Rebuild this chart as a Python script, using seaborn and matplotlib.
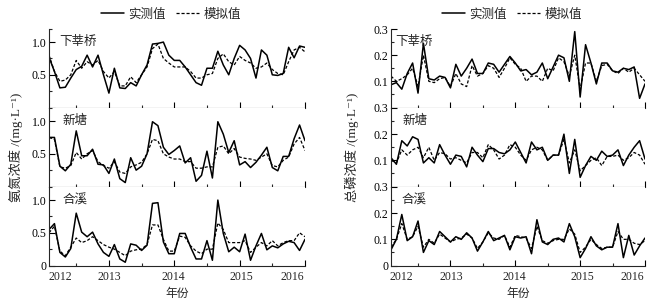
import matplotlib
matplotlib.use("Agg")
import matplotlib.pyplot as plt
from matplotlib.lines import Line2D
import numpy as np
import pandas as pd
import seaborn as sns

# monthly series, Jan 2012 - Dec 2015 (48 months)
months = np.arange(48)
sites = ["下莘桥", "新塘", "合溪"]
year_labels = ["2012", "2013", "2014", "2015", "2016"]

# 氨氮 (mg/L)
nh_xxq_obs = [0.77, 0.55, 0.30, 0.31, 0.45, 0.58, 0.63, 0.80, 0.62, 0.80, 0.50, 0.22,
              0.60, 0.30, 0.29, 0.38, 0.33, 0.50, 0.65, 0.97, 0.98, 1.00, 0.80, 0.72,
              0.72, 0.62, 0.50, 0.38, 0.34, 0.60, 0.60, 0.86, 0.65, 0.50, 0.75, 0.95,
              0.88, 0.75, 0.45, 0.88, 0.80, 0.50, 0.49, 0.52, 0.92, 0.76, 0.94, 0.92]
nh_xxq_sim = [0.80, 0.55, 0.40, 0.42, 0.50, 0.72, 0.60, 0.70, 0.65, 0.72, 0.55, 0.45,
              0.55, 0.33, 0.33, 0.47, 0.38, 0.50, 0.62, 0.90, 0.97, 0.75, 0.68, 0.62,
              0.62, 0.62, 0.55, 0.45, 0.45, 0.50, 0.52, 0.75, 0.82, 0.70, 0.65, 0.78,
              0.72, 0.68, 0.60, 0.62, 0.68, 0.58, 0.52, 0.50, 0.70, 0.88, 0.92, 0.85]
nh_xt_obs = [0.75, 0.75, 0.31, 0.24, 0.34, 0.85, 0.47, 0.47, 0.57, 0.34, 0.33, 0.20,
             0.42, 0.12, 0.06, 0.44, 0.25, 0.31, 0.50, 0.99, 0.93, 0.60, 0.49, 0.55,
             0.62, 0.36, 0.44, 0.08, 0.17, 0.54, 0.13, 0.99, 0.80, 0.52, 0.70, 0.33,
             0.38, 0.29, 0.37, 0.48, 0.60, 0.29, 0.24, 0.46, 0.46, 0.73, 0.94, 0.70]
nh_xt_sim = [0.75, 0.72, 0.30, 0.28, 0.32, 0.52, 0.42, 0.50, 0.55, 0.38, 0.32, 0.28,
             0.38, 0.22, 0.20, 0.30, 0.33, 0.37, 0.50, 0.72, 0.70, 0.50, 0.45, 0.42,
             0.42, 0.38, 0.38, 0.28, 0.28, 0.30, 0.30, 0.60, 0.62, 0.50, 0.58, 0.45,
             0.43, 0.42, 0.40, 0.45, 0.50, 0.32, 0.30, 0.40, 0.45, 0.65, 0.75, 0.55]
nh_hx_obs = [0.55, 0.64, 0.20, 0.13, 0.26, 0.80, 0.51, 0.44, 0.51, 0.33, 0.20, 0.14,
             0.32, 0.10, 0.05, 0.33, 0.31, 0.23, 0.31, 0.95, 0.96, 0.36, 0.18, 0.18,
             0.49, 0.49, 0.28, 0.10, 0.10, 0.38, 0.08, 1.00, 0.49, 0.21, 0.28, 0.21,
             0.48, 0.08, 0.30, 0.49, 0.24, 0.30, 0.27, 0.33, 0.37, 0.35, 0.23, 0.40]
nh_hx_sim = [0.50, 0.60, 0.22, 0.15, 0.28, 0.42, 0.35, 0.38, 0.44, 0.38, 0.32, 0.28,
             0.25, 0.20, 0.15, 0.22, 0.24, 0.25, 0.32, 0.62, 0.62, 0.40, 0.22, 0.22,
             0.45, 0.43, 0.30, 0.22, 0.18, 0.25, 0.25, 0.65, 0.55, 0.35, 0.35, 0.35,
             0.38, 0.20, 0.28, 0.35, 0.30, 0.38, 0.30, 0.35, 0.38, 0.38, 0.50, 0.44]

# 总磷 (mg/L)
tp_xxq_obs = [0.087, 0.095, 0.070, 0.130, 0.170, 0.055, 0.245, 0.110, 0.105, 0.120, 0.115, 0.075,
              0.165, 0.120, 0.150, 0.185, 0.130, 0.130, 0.170, 0.165, 0.135, 0.165, 0.195, 0.170,
              0.140, 0.145, 0.125, 0.135, 0.170, 0.110, 0.155, 0.200, 0.190, 0.100, 0.290, 0.040,
              0.240, 0.170, 0.090, 0.170, 0.170, 0.140, 0.135, 0.150, 0.145, 0.155, 0.035, 0.090]
tp_xxq_sim = [0.120, 0.100, 0.110, 0.125, 0.150, 0.080, 0.200, 0.100, 0.095, 0.110, 0.115, 0.080,
              0.130, 0.090, 0.080, 0.160, 0.120, 0.130, 0.160, 0.150, 0.115, 0.150, 0.190, 0.165,
              0.150, 0.100, 0.120, 0.120, 0.100, 0.150, 0.140, 0.190, 0.175, 0.120, 0.200, 0.070,
              0.170, 0.170, 0.100, 0.160, 0.165, 0.140, 0.130, 0.150, 0.135, 0.150, 0.125, 0.100]
tp_xt_obs = [0.110, 0.085, 0.175, 0.155, 0.190, 0.180, 0.090, 0.110, 0.090, 0.160, 0.120, 0.085,
             0.120, 0.115, 0.075, 0.150, 0.120, 0.095, 0.145, 0.145, 0.130, 0.125, 0.140, 0.170,
             0.130, 0.090, 0.170, 0.140, 0.150, 0.100, 0.120, 0.120, 0.200, 0.050, 0.180, 0.035,
             0.080, 0.115, 0.100, 0.135, 0.115, 0.120, 0.140, 0.080, 0.120, 0.150, 0.175, 0.105]
tp_xt_sim = [0.100, 0.090, 0.140, 0.120, 0.140, 0.150, 0.110, 0.150, 0.100, 0.130, 0.125, 0.105,
             0.110, 0.100, 0.090, 0.130, 0.130, 0.110, 0.160, 0.140, 0.105, 0.120, 0.160, 0.150,
             0.120, 0.100, 0.140, 0.150, 0.140, 0.100, 0.120, 0.120, 0.180, 0.090, 0.140, 0.060,
             0.080, 0.100, 0.110, 0.080, 0.115, 0.115, 0.120, 0.100, 0.110, 0.130, 0.120, 0.085]
tp_hx_obs = [0.060, 0.100, 0.195, 0.095, 0.110, 0.170, 0.050, 0.095, 0.080, 0.130, 0.110, 0.090,
             0.110, 0.100, 0.125, 0.105, 0.055, 0.090, 0.130, 0.095, 0.105, 0.115, 0.060, 0.110,
             0.105, 0.110, 0.045, 0.175, 0.090, 0.080, 0.100, 0.105, 0.090, 0.160, 0.110, 0.030,
             0.065, 0.110, 0.075, 0.060, 0.070, 0.070, 0.160, 0.030, 0.115, 0.040, 0.075, 0.105]
tp_hx_sim = [0.070, 0.100, 0.160, 0.100, 0.110, 0.150, 0.070, 0.100, 0.085, 0.120, 0.105, 0.090,
             0.100, 0.105, 0.120, 0.105, 0.065, 0.090, 0.125, 0.105, 0.100, 0.115, 0.070, 0.115,
             0.110, 0.105, 0.065, 0.150, 0.095, 0.085, 0.095, 0.100, 0.100, 0.140, 0.120, 0.050,
             0.070, 0.100, 0.080, 0.065, 0.070, 0.070, 0.130, 0.100, 0.100, 0.085, 0.080, 0.095]

sns.set_theme(style="ticks")
plt.rcParams["font.family"] = ["Liberation Serif", "Noto Sans CJK SC", "DejaVu Sans"]
plt.rcParams["axes.linewidth"] = 0.8

fig = plt.figure(figsize=(6.58, 3.05), dpi=100)

W, H = 658.0, 305.0
rows_top = [29, 108, 187]
row_h = 78.5

panels = [
    dict(x0=49, x1=305, obs=[nh_xxq_obs, nh_xt_obs, nh_hx_obs], sim=[nh_xxq_sim, nh_xt_sim, nh_hx_sim],
         ylim=1.2, major=[0, 0.5, 1.0], minor=[0.25, 0.75, 1.2], fmt=["0", "0.5", "1.0"],
         ylabel="氨氮浓度 /(mg·L⁻¹)", ylab_x=16, lab_dx=[10, 13, 14]),
    dict(x0=391, x1=645, obs=[tp_xxq_obs, tp_xt_obs, tp_hx_obs], sim=[tp_xxq_sim, tp_xt_sim, tp_hx_sim],
         ylim=0.3, major=[0, 0.1, 0.2, 0.3], minor=[0.05, 0.15, 0.25], fmt=["0", "0.1", "0.2", "0.3"],
         ylabel="总磷浓度 /(mg·L⁻¹)", ylab_x=352, lab_dx=[4, 11, 11]),
]

year_pos = [2.0, 11.1, 22.9, 35.4, 44.7]
dash = (0, (2.5, 1.5))

for p in panels:
    for r in range(3):
        top = rows_top[r]
        ax = fig.add_axes([p["x0"] / W, 1 - (top + row_h) / H, (p["x1"] - p["x0"]) / W, row_h / H])
        df = pd.DataFrame({"month": months, "obs": p["obs"][r], "sim": p["sim"][r]})
        sns.lineplot(data=df, x="month", y="obs", ax=ax, color="black", lw=1.1)
        sns.lineplot(data=df, x="month", y="sim", ax=ax, color="black", lw=0.9, linestyle=dash)
        ax.set_xlim(0, 47)
        ax.set_ylim(0, p["ylim"])
        for s in ["top", "right"]:
            ax.spines[s].set_visible(False)
        ax.set_xlabel("")
        ax.set_ylabel("")
        ax.set_xticks([11, 23, 35, 47])
        ax.set_xticks([5, 17, 29, 41], minor=True)
        ax.set_xticklabels([])
        ax.set_yticks(p["major"])
        labels = list(p["fmt"])
        if r < 2:
            labels[0] = ""
        ax.set_yticklabels(labels)
        ax.set_yticks(p["minor"], minor=True)
        ax.tick_params(axis="both", which="major", direction="in", length=4, width=0.8,
                       labelsize=8.5, pad=2, colors="black")
        ax.tick_params(axis="both", which="minor", direction="in", length=2.5, width=0.8)
        ax.text(p["lab_dx"][r] / (p["x1"] - p["x0"]), 0.92, sites[r], transform=ax.transAxes,
                fontsize=9, ha="left", va="top", family=["Noto Sans CJK SC"])
        if r == 2:
            for xp, yl in zip(year_pos, year_labels):
                ax.text(xp, -0.145, yl, transform=ax.get_xaxis_transform(), ha="center", va="center",
                        fontsize=8.5)
    fig.text(p["ylab_x"] / W, 1 - 147 / H, p["ylabel"], rotation=90, ha="center", va="center",
             fontsize=9.5, family=["Liberation Serif", "Noto Sans CJK SC", "DejaVu Sans"])
    cx = (p["x0"] + p["x1"]) / 2.0
    fig.text(cx / W, 1 - 293 / H, "年份", ha="center", va="center", fontsize=8.5,
             family=["Noto Sans CJK SC"])
    handles = [Line2D([], [], color="black", lw=1.1),
               Line2D([], [], color="black", lw=0.9, linestyle=dash)]
    fig.legend(handles, ["实测值", "模拟值"], loc="center", bbox_to_anchor=((cx - 6) / W, 1 - 14 / H),
               ncol=2, frameon=False, handlelength=1.8, columnspacing=0.8, handletextpad=0.4,
               borderaxespad=0, prop={"family": ["Noto Sans CJK SC"], "size": 9})

fig.savefig("out.png", dpi=100)
